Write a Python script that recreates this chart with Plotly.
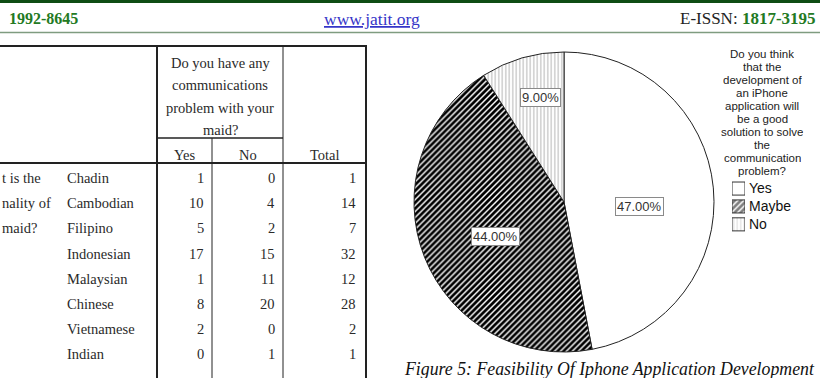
import plotly.graph_objects as go

W, H = 820, 378

# ---- data ----
pie_labels = ["Yes", "Maybe", "No"]
pie_values = [47.0, 44.0, 9.0]
pie_text = ["47.00%", "44.00%", "9.00%"]

legend_title_lines = ["Do you think", "that the", "development of", "an iPhone",
                      "application will", "be a good", "solution to solve", "the",
                      "communication", "problem?"]

nationalities = ["Chadin", "Cambodian", "Filipino", "Indonesian", "Malaysian",
                 "Chinese", "Vietnamese", "Indian"]
comm_yes = [1, 10, 5, 17, 1, 8, 2, 0]
comm_no = [0, 4, 2, 15, 11, 20, 0, 1]
comm_total = [1, 14, 7, 32, 12, 28, 2, 1]

header_q_lines = ["Do you have any", "communications", "problem with your", "maid?"]
col_heads = ["Yes", "No", "Total"]
row_q_fragments = ["t is the", "nality of", "maid?"]

caption = "Figure 5: Feasibility Of Iphone Application Development"


def px(x):
    return x / W


def py(y):
    return 1 - y / H


SERIF = "Liberation Serif, Times New Roman, serif"
SANS = "Liberation Sans, Arial, sans-serif"

PAT = dict(shape=["", "/", "|"],
           fgcolor=["white", "black", "#b8b8b8"],
           bgcolor=["white", "white", "white"],
           size=[4, 4.2, 3.5], solidity=[0.5, 0.66, 0.3])

fig = go.Figure()

# pie
fig.add_trace(go.Pie(
    labels=pie_labels, values=pie_values, sort=False, direction="clockwise",
    rotation=0, textinfo="none", hoverinfo="skip", showlegend=False,
    domain=dict(x=[px(414), px(714)], y=[py(352), py(52)]),
    marker=dict(colors=["white", "white", "white"],
                line=dict(color="#222222", width=1), pattern=PAT),
))

# legend swatches (bar trace on a tiny hidden axis)
fig.add_trace(go.Bar(
    x=[1, 1, 1], y=[0, 1, 2], orientation="h", width=0.73,
    showlegend=False, hoverinfo="skip",
    marker=dict(color="white", line=dict(color="#333333", width=1), pattern=PAT),
))

annotations = []
shapes = []


def text(x, y, s, size, family=SERIF, color="#2a2a2a", xanchor="center", **kw):
    annotations.append(dict(x=px(x), y=py(y), xref="paper", yref="paper", text=s,
                            showarrow=False, xanchor=xanchor, yanchor="middle",
                            font=dict(size=size, family=family, color=color), **kw))


def line(x0, y0, x1, y1, color="#222222", width=1):
    shapes.append(dict(type="line", xref="paper", yref="paper",
                       x0=px(x0), y0=py(y0), x1=px(x1), y1=py(y1),
                       line=dict(color=color, width=width)))


# ---- page header ----
shapes.append(dict(type="rect", xref="paper", yref="paper", x0=0, x1=1,
                   y0=py(3), y1=py(0), fillcolor="#0f4d14", line=dict(width=0)))
line(0, 32.5, 820, 32.5, color="#7f9c80", width=1.5)
text(7, 19, "<b>1992-8645</b>", 16, color="#237a23", xanchor="left")
text(372, 19, "<u>www.jatit.org</u>", 17.5, color="#3535c8")
text(818, 19, "E-ISSN: <b><span style='color:#237a23'>1817-3195</span></b>", 17,
     color="#222222", xanchor="right")

# ---- table ----
line(0, 46, 367, 46, width=2)
line(157, 46, 157, 378, width=2)
line(366, 46, 366, 378, width=2)
line(283, 46, 283, 378, width=1)
line(212, 138, 212, 378, width=1)
line(157, 138, 283, 138, width=1.5)
line(0, 163, 367, 163, width=2)

for i, s in enumerate(header_q_lines):
    text(220, 63 + i * 22.3, s, 14.5)
for cx, s in zip([184.5, 247.5, 324.5], col_heads):
    text(cx, 155, s, 14.5)

row_y = [178 + i * 25.2 for i in range(len(nationalities))]
for y, n, a, b, t in zip(row_y, nationalities, comm_yes, comm_no, comm_total):
    text(65, y, n, 14.5, xanchor="left")
    text(206, y, str(a), 14.5, xanchor="right")
    text(277, y, str(b), 14.5, xanchor="right")
    text(358, y, str(t), 14.5, xanchor="right")
for y, s in zip(row_y[:3], row_q_fragments):
    text(0, y, s, 14.5, xanchor="left")

# ---- pie labels ----
for (x, y), s in zip([(639, 206), (495, 236), (540, 97.5)], pie_text):
    text(x, y, s, 13, family=SANS, color="#333333", bgcolor="white",
         bordercolor="#8a8a8a", borderwidth=1, borderpad=1)

# ---- legend ----
for i, s in enumerate(legend_title_lines):
    text(762, 54.5 + i * 12.95, s, 11.5, family=SANS, color="#222222",
         height=12.5, borderpad=0)
for i, s in enumerate(pie_labels):
    text(747, 188.5 + i * 17.9, s, 14, family=SANS, color="#111111", xanchor="left")

# ---- caption ----
text(817, 369, "<i>" + caption + "</i>", 17.8, color="#111111", xanchor="right")

fig.update_layout(
    width=W, height=H, margin=dict(l=0, r=0, t=0, b=0),
    paper_bgcolor="white", plot_bgcolor="white",
    showlegend=False, hovermode=False,
    xaxis=dict(domain=[px(732), px(745)], range=[0, 1], visible=False, fixedrange=True),
    yaxis=dict(domain=[py(233.3), py(179.6)], range=[2.5, -0.5], visible=False,
               fixedrange=True),
    annotations=annotations, shapes=shapes,
)

fig.write_html("out.html", config={"displayModeBar": False})
